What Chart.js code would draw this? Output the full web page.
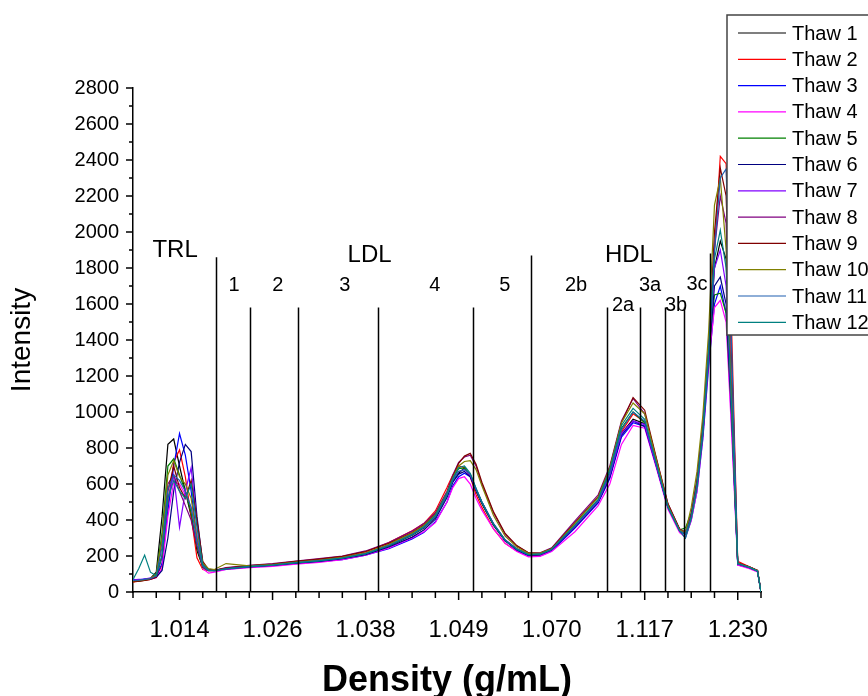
<!DOCTYPE html>
<html><head><meta charset="utf-8">
<script src="https://cdn.jsdelivr.net/npm/chart.js@4/dist/chart.umd.min.js"></script>
<style>html,body{margin:0;padding:0;background:#fff}#wrap{width:868px;height:696px;position:relative}canvas{display:block}</style>
</head><body><div id="wrap"><canvas id="c" width="868" height="696"></canvas></div>
<script>
// x positions (axis units: one unit = one minor tick)
const positions = [0,0.25,0.5,0.75,1,1.25,1.5,1.75,2,2.25,2.5,2.75,3,3.25,3.5,4,5,6,7,8,9,10,11,12,12.5,13,13.5,13.75,14,14.25,14.5,14.75,15,15.5,16,16.5,17,17.5,18,19,20,20.5,21,21.5,22,22.5,23,23.5,23.75,24,24.25,24.5,24.75,25,25.25,25.5,25.75,26,26.5,26.85,27];
const tickPositions = [2,6,10,14,18,22,26];
const tickLabels = ['1.014','1.026','1.038','1.049','1.070','1.117','1.230'];
const seriesNames = ['Thaw 1','Thaw 2','Thaw 3','Thaw 4','Thaw 5','Thaw 6','Thaw 7','Thaw 8','Thaw 9','Thaw 10','Thaw 11','Thaw 12'];
const seriesColors = ['#000000','#ff0000','#0000ff','#ff00ff','#008000','#000080','#8000ff','#800080','#800000','#808000','#1f5fb0','#008080'];

const thaw1 = [60,62,68,75,110,420,820,850,700,560,420,230,140,120,118, 128,142,150,162,172,186,210,255,315,355,415,535,615,660,690,650,560,490,370,285,238,205,210,238, 365,500,640,880,960,935,720,480,345,335, 420,600,900,1330,1800,1950,1850,950,160,138,118,0];
const thaw2 = [55,60,65,70,85,150,480,720,790,640,420,190,125,118,120, 130,145,152,168,180,195,222,275,340,380,450,580,650,700,690,640,540,470,350,270,228,200,205,232, 360,505,650,890,990,945,720,470,350,330, 410,590,880,1330,1900,2420,2380,1400,170,140,120,0];
const thaw3 = [70,68,72,76,85,160,450,700,880,760,560,300,150,122,118, 126,138,146,158,168,180,205,240,295,330,390,500,590,640,660,640,570,500,375,285,232,200,200,228, 355,495,630,860,940,920,700,470,340,300, 400,560,850,1250,1600,1700,1550,900,150,135,115,0];
const thaw4 = [62,65,70,72,80,130,420,610,600,540,470,320,130,105,110, 125,135,142,155,165,180,205,245,300,335,385,500,580,630,640,600,520,455,350,270,225,195,198,225, 335,480,600,820,925,910,690,460,330,305, 395,560,860,1280,1580,1620,1500,850,150,130,112,0];
const thaw5 = [58,60,66,72,100,330,700,740,650,560,440,250,135,118,120, 132,144,150,165,175,188,212,258,318,358,420,545,630,685,690,650,565,495,375,288,240,210,215,240, 370,510,670,910,1000,940,705,470,345,355, 440,630,930,1350,1650,1660,1550,950,160,138,118,0];
const thaw6 = [65,66,70,74,82,120,300,560,720,820,780,420,160,125,120, 128,140,148,160,170,185,208,250,305,345,405,525,610,655,670,640,565,495,375,285,235,205,208,235, 360,500,640,870,950,920,700,470,340,320, 420,590,880,1300,1700,1750,1600,950,155,135,115,0];
const thaw7 = [68,70,72,78,90,200,520,650,360,560,690,380,150,120,118, 130,142,150,164,175,190,214,262,322,362,425,545,625,670,680,650,570,500,380,290,240,210,212,238, 365,505,650,880,950,930,700,470,345,325, 425,610,900,1330,1800,1900,1700,980,158,136,116,0];
const thaw8 = [60,64,68,74,92,280,600,650,560,480,400,260,140,118,120, 135,148,158,172,185,200,228,275,338,380,440,560,650,720,750,760,700,600,440,320,255,218,218,245, 395,540,700,950,1075,990,740,490,350,330, 430,620,920,1360,1900,2200,2050,1050,160,138,118,0];
const thaw9 = [58,60,64,70,82,200,560,700,580,520,620,400,170,125,120, 133,146,155,170,183,198,225,270,330,372,432,550,640,715,755,770,710,610,445,325,258,218,215,242, 385,530,690,940,1080,1010,745,490,350,325, 420,610,910,1350,2000,2355,2200,1250,162,140,120,0];
const thaw10 = [62,64,68,75,98,300,650,730,640,600,520,300,160,130,125, 158,145,152,166,177,192,218,265,328,368,430,550,635,700,725,730,680,590,425,310,250,215,216,240, 380,525,690,940,1050,990,735,480,345,330, 470,670,980,1450,2150,2300,1900,1000,160,138,118,0];
const thaw11 = [64,66,70,74,88,250,570,650,620,560,470,280,145,120,118, 130,142,150,163,174,189,213,258,318,358,418,538,620,670,680,655,575,500,378,288,238,208,210,236, 368,508,660,900,1000,950,712,472,340,322, 415,600,900,1340,1900,2300,2350,1300,158,137,117,0];
const thaw12 = [70,130,205,110,90,200,520,620,560,520,600,360,150,122,118, 129,141,149,162,173,188,212,257,320,362,425,548,630,690,700,660,575,500,378,288,238,208,210,237, 372,515,680,925,1020,960,715,472,340,300, 405,580,880,1320,1850,2010,1800,980,158,136,116,0];
const seriesValues = [thaw1,thaw2,thaw3,thaw4,thaw5,thaw6,thaw7,thaw8,thaw9,thaw10,thaw11,thaw12];

// fraction boundaries (x in axis units, top in intensity)
const boundaryX = [3.57,5.03,7.09,10.53,14.62,17.11,20.38,21.80,22.87,23.69,24.81];
const boundaryTop = [1860,1580,1580,1580,1580,1870,1580,1580,1580,1580,1880];
// class labels
const classLabels = ['TRL','LDL','HDL'];
const classX = [1.81,10.17,21.32];
const classY = [1900,1868,1868];
// subfraction labels
const fracLabels = ['1','2','3','4','5','2b','2a','3a','3b','3c'];
const fracX = [4.34,6.23,9.11,12.98,15.99,19.05,21.07,22.23,23.35,24.25];
const fracY = [1705,1705,1705,1705,1705,1705,1594,1705,1594,1711];

const FONT = "'Liberation Sans', Arial, sans-serif";

const datasets = seriesValues.map((vals,i)=>({
  label: seriesNames[i],
  data: positions.map((x,j)=>({x:x, y:vals[j]})),
  borderColor: seriesColors[i],
  backgroundColor: seriesColors[i],
  borderWidth: 1.2,
  pointRadius: 0,
  tension: 0,
  fill: false,
  order: seriesNames.length - i
}));

const overlay = {
  id:'overlay',
  afterDatasetsDraw(chart){
    const {ctx, scales:{x,y}} = chart;
    ctx.save();
    ctx.strokeStyle = '#000'; ctx.lineWidth = 1.5;
    boundaryX.forEach((bx,i)=>{
      const px = Math.round(x.getPixelForValue(bx))+0.5;
      ctx.beginPath(); ctx.moveTo(px, y.getPixelForValue(boundaryTop[i])); ctx.lineTo(px, y.getPixelForValue(0)); ctx.stroke();
    });
    ctx.fillStyle = '#000'; ctx.textAlign='center'; ctx.textBaseline='middle';
    ctx.font = '24px ' + FONT;
    classLabels.forEach((t,i)=> ctx.fillText(t, x.getPixelForValue(classX[i]), y.getPixelForValue(classY[i])));
    ctx.font = '20px ' + FONT;
    fracLabels.forEach((t,i)=> ctx.fillText(t, x.getPixelForValue(fracX[i]), y.getPixelForValue(fracY[i])));
    ctx.restore();
  },
  afterDraw(chart){
    const {ctx, scales:{x,y}, chartArea:a} = chart;
    ctx.save();
    ctx.strokeStyle='#000'; ctx.lineWidth=1.5;
    x.ticks.forEach(t=>{
      const px = x.getPixelForValue(t.value);
      const len = tickPositions.includes(t.value) ? 8 : 6;
      ctx.beginPath(); ctx.moveTo(px, a.bottom); ctx.lineTo(px, a.bottom+len); ctx.stroke();
    });
    y.ticks.forEach(t=>{
      const py = y.getPixelForValue(t.value);
      const len = t.value % 200 === 0 ? 7 : 4;
      ctx.beginPath(); ctx.moveTo(a.left, py); ctx.lineTo(a.left-len, py); ctx.stroke();
    });
    // axis titles
    ctx.fillStyle='#000';
    ctx.textAlign='center'; ctx.textBaseline='middle';
    ctx.font = 'bold 36px ' + FONT;
    ctx.fillText('Density (g/mL)', 447, 681);
    ctx.save();
    ctx.translate(22, 340); ctx.rotate(-Math.PI/2);
    ctx.font = '28px ' + FONT;
    ctx.fillText('Intensity', 0, 0);
    ctx.restore();
    // legend
    const lx = 727, ly = 15, lw = 150, lh = 320;
    ctx.fillStyle='#fff'; ctx.fillRect(lx, ly, lw, lh);
    ctx.strokeStyle='#444'; ctx.lineWidth=1.5; ctx.strokeRect(lx, ly, lw, lh);
    ctx.font = '20px ' + FONT; ctx.textAlign='left'; ctx.textBaseline='middle';
    chart.data.datasets.forEach((ds,i)=>{
      const yy = 33 + i*26.3;
      ctx.strokeStyle = ds.borderColor; ctx.lineWidth = 1.2;
      ctx.beginPath(); ctx.moveTo(738, yy); ctx.lineTo(786, yy); ctx.stroke();
      ctx.fillStyle='#000'; ctx.fillText(ds.label, 792, yy+1);
    });
    ctx.restore();
  }
};

new Chart(document.getElementById('c'), {
  type:'line',
  data:{datasets},
  options:{
    responsive:false, animation:false, devicePixelRatio:1,
    layout:{padding:{left:0,right:107,top:88,bottom:0}},
    plugins:{legend:{display:false}, tooltip:{enabled:false}},
    scales:{
      x:{type:'linear', min:0, max:27,
        afterFit(s){ s.height = 104; },
        ticks:{stepSize:1, autoSkip:false, maxRotation:0, minRotation:0, padding:16, color:'#000',
          font:{family:FONT, size:24},
          callback:(v)=>{ const k = tickPositions.indexOf(v); return k>=0 ? tickLabels[k] : ''; }},
        grid:{display:true, drawOnChartArea:false, drawTicks:true, tickLength:8, color:'rgba(0,0,0,0)'},
        border:{display:true, color:'#000', width:1.5}
      },
      y:{min:0, max:2800,
        afterFit(s){ s.width = 133; },
        ticks:{stepSize:100, autoSkip:false, padding:6, color:'#000',
          font:{family:FONT, size:20},
          callback:(v)=> v % 200 === 0 ? String(v) : ''},
        grid:{display:true, drawOnChartArea:false, drawTicks:true, tickLength:8, color:'rgba(0,0,0,0)'},
        border:{display:true, color:'#000', width:1.5}
      }
    }
  },
  plugins:[overlay]
});
</script>
</body></html>
